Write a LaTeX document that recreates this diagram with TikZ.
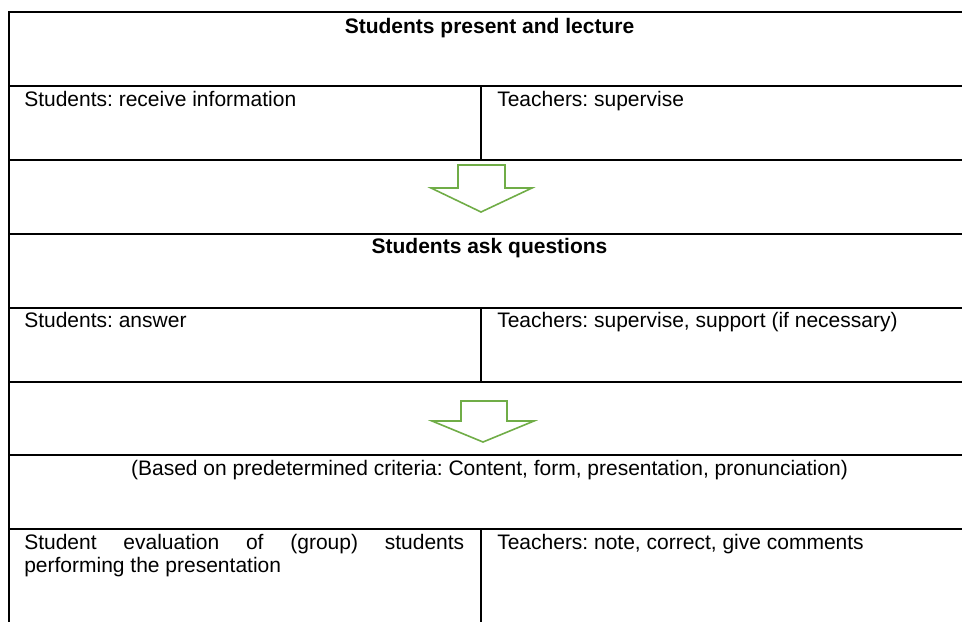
\documentclass[tikz,border=0pt]{standalone}
\usepackage{fontspec}
\setmainfont{Liberation Sans}
\frenchspacing
\definecolor{arrowgreen}{HTML}{70AD47}
\tikzset{
  grid/.style={line width=1.5pt, line cap=rect},
  txt/.style={inner sep=0pt, font=\fontsize{15.75}{18}\selectfont\frenchspacing},
  ttl/.style={txt, font=\fontsize{15.75}{18}\selectfont\bfseries\frenchspacing, anchor=base},
  cell/.style={txt, anchor=base west},
  blockarrow/.style={draw=arrowgreen, line width=1.2pt, line join=miter, fill=white}
}
\begin{document}
\begin{tikzpicture}[x=0.75pt, y=-0.75pt]
\clip (0,0) rectangle (962,621);
% table rules
\draw[grid] (9,12) -- (975,12);
\draw[grid] (9,86) -- (975,86);
\draw[grid] (9,160) -- (975,160);
\draw[grid] (9,234) -- (975,234);
\draw[grid] (9,308) -- (975,308);
\draw[grid] (9,382) -- (975,382);
\draw[grid] (9,455) -- (975,455);
\draw[grid] (9,529) -- (975,529);
\draw[grid] (9,12) -- (9,640);
\draw[grid] (481,86) -- (481,160);
\draw[grid] (481,308) -- (481,382);
\draw[grid] (481,529) -- (481,640);
% block arrows
\draw[blockarrow] (458,165) -- (505,165) -- (505,188) -- (532,188) -- (481,212) -- (431,188) -- (458,188) -- cycle;
\draw[blockarrow] (461,401) -- (507,401) -- (507,421) -- (534,421) -- (483,442) -- (432,421) -- (461,421) -- cycle;
% texts
\node[ttl] (t1) at (489.5,33) {Students present and lecture};
\node[cell] (s1) at (24,106) {Students: receive information};
\node[cell] (r1) at (497,106) {Teachers: supervise};
\node[ttl] (t2) at (489.5,253) {Students ask questions};
\node[cell] (s2) at (24,327) {Students: answer};
\node[cell] (r2) at (497,327) {Teachers: supervise, support (if necessary)};
\node[txt, anchor=base] (t3) at (489.5,475) {(Based on predetermined criteria: Content, form, presentation, pronunciation)};
\node[cell] (e1) at (24,549) {\makebox[330pt][s]{Student evaluation of (group) students}};
\node[cell] (e2) at (24,572) {performing the presentation};
\node[cell] (r3) at (497,549) {Teachers: note, correct, give comments};
\end{tikzpicture}
\end{document}
